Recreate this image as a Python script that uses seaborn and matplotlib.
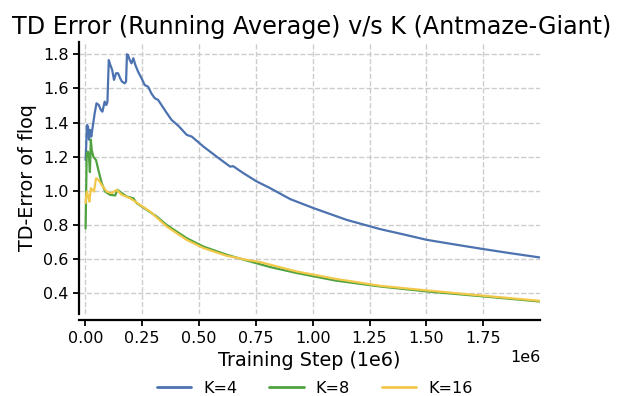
import numpy as np
import pandas as pd
import matplotlib
matplotlib.use("Agg")
import matplotlib.pyplot as plt
import seaborn as sns
from matplotlib.lines import Line2D

# ---- data (x in millions of training steps) ----
k4_x = [0.001, 0.003, 0.007, 0.012, 0.016, 0.021, 0.026, 0.032, 0.041, 0.049, 0.059, 0.068,
        0.075, 0.085, 0.092, 0.097, 0.103, 0.110, 0.118, 0.126, 0.135, 0.144, 0.153, 0.161,
        0.173, 0.179, 0.183, 0.188, 0.195, 0.203, 0.211, 0.220, 0.232, 0.247, 0.261, 0.276,
        0.290, 0.305, 0.320, 0.349, 0.379, 0.410, 0.446, 0.468, 0.519, 0.578, 0.637, 0.650,
        0.695, 0.754, 0.813, 0.901, 1.004, 1.150, 1.297, 1.400, 1.503, 1.635, 1.752, 1.870, 2.000]
k4_y = [1.18, 1.24, 1.386, 1.376, 1.30, 1.357, 1.318, 1.373, 1.455, 1.513, 1.503, 1.474,
        1.464, 1.523, 1.503, 1.52, 1.766, 1.737, 1.708, 1.65, 1.689, 1.689, 1.66, 1.64,
        1.63, 1.64, 1.800, 1.796, 1.767, 1.747, 1.777, 1.737, 1.698, 1.66, 1.62, 1.61,
        1.572, 1.543, 1.533, 1.474, 1.416, 1.38, 1.328, 1.318, 1.26, 1.20, 1.142, 1.145,
        1.104, 1.055, 1.016, 0.952, 0.899, 0.83, 0.776, 0.745, 0.713, 0.684, 0.659, 0.635, 0.61]

k8_x = [0.001, 0.006, 0.011, 0.016, 0.020, 0.024, 0.028, 0.035, 0.047, 0.057, 0.072, 0.087,
        0.109, 0.131, 0.141, 0.160, 0.182, 0.211, 0.226, 0.270, 0.314, 0.358, 0.446, 0.519,
        0.622, 0.710, 0.813, 0.930, 1.100, 1.297, 1.503, 1.752, 2.000]
k8_y = [0.78, 1.22, 1.23, 1.20, 1.11, 1.30, 1.24, 1.20, 1.18, 1.123, 1.045, 0.996,
        0.977, 0.973, 1.006, 0.987, 0.967, 0.957, 0.928, 0.889, 0.85, 0.80, 0.723, 0.674,
        0.626, 0.592, 0.554, 0.519, 0.475, 0.44, 0.411, 0.382, 0.352]

k16_x = [0.001, 0.006, 0.013, 0.018, 0.024, 0.031, 0.038, 0.047, 0.057, 0.072, 0.094, 0.116,
         0.138, 0.160, 0.197, 0.241, 0.285, 0.358, 0.446, 0.519, 0.622, 0.710, 0.769, 0.930,
         1.100, 1.297, 1.503, 1.752, 2.000]
k16_y = [0.928, 0.996, 0.967, 0.937, 1.016, 1.006, 0.996, 1.074, 1.065, 1.035, 0.996, 0.987,
         1.006, 0.977, 0.957, 0.918, 0.879, 0.791, 0.713, 0.665, 0.62, 0.596, 0.583, 0.528,
         0.485, 0.444, 0.417, 0.386, 0.356]

labels = ["K=4", "K=8", "K=16"]
colors = ["#4C72B0", "#4FA23F", "#F2C84B"]

frames = []
for lab, xs, ys in zip(labels, [k4_x, k8_x, k16_x], [k4_y, k8_y, k16_y]):
    frames.append(pd.DataFrame({"step": np.array(xs) * 1e6, "td": ys, "K": lab}))
df = pd.concat(frames, ignore_index=True)

sns.set_theme(style="white")
plt.rcParams['font.family'] = ['DejaVu Sans']
plt.rcParams.update({"text.color": "black", "axes.labelcolor": "black",
                     "xtick.color": "black", "ytick.color": "black"})

fig = plt.figure(figsize=(6.21, 3.96), dpi=100)
ax = fig.add_axes([79/621, 82/396, 461/621, 272/396])

sns.lineplot(data=df, x="step", y="td", hue="K", hue_order=labels,
             palette=colors, linewidth=1.6, ax=ax, legend=False, estimator=None, sort=False)

ax.set_xlim(-0.028e6, 2.0e6)
ax.set_ylim(0.279, 1.872)
ax.set_yticks([0.4, 0.6, 0.8, 1.0, 1.2, 1.4, 1.6, 1.8])
ax.set_xticks(np.arange(0, 2.0e6, 0.25e6))
ax.grid(True, linestyle="--", color="#cccccc", linewidth=1.0)

for s in ["top", "right"]:
    ax.spines[s].set_visible(False)
for s in ["left", "bottom"]:
    ax.spines[s].set_color("black")
    ax.spines[s].set_linewidth(1.6)
ax.spines["bottom"].set_position(("outward", 4.5))
ax.tick_params(axis="both", which="major", direction="out", length=4, width=1.3,
               colors="black", labelsize=11.5, bottom=True, left=True)

ax.set_xlabel("Training Step (1e6)", fontsize=13.8, color="black")
ax.set_ylabel("TD-Error of floq", fontsize=13.8, color="black")
ax.xaxis.get_offset_text().set_fontsize(11.5)
ax.xaxis.get_offset_text().set_color("black")
ax.set_title("TD Error (Running Average) v/s K (Antmaze-Giant)", fontsize=17.2,
             color="black", x=0.505)

handles = [Line2D([0], [0], color=c, lw=2) for c in colors]
leg = fig.legend(handles, labels, loc="center", bbox_to_anchor=(0.507, 0.02), ncol=3,
                 frameon=False, fontsize=11.5, handlelength=2.15, handletextpad=0.75,
                 columnspacing=2.0)
for t in leg.get_texts():
    t.set_color("black")

fig.savefig("out.png", dpi=100)
